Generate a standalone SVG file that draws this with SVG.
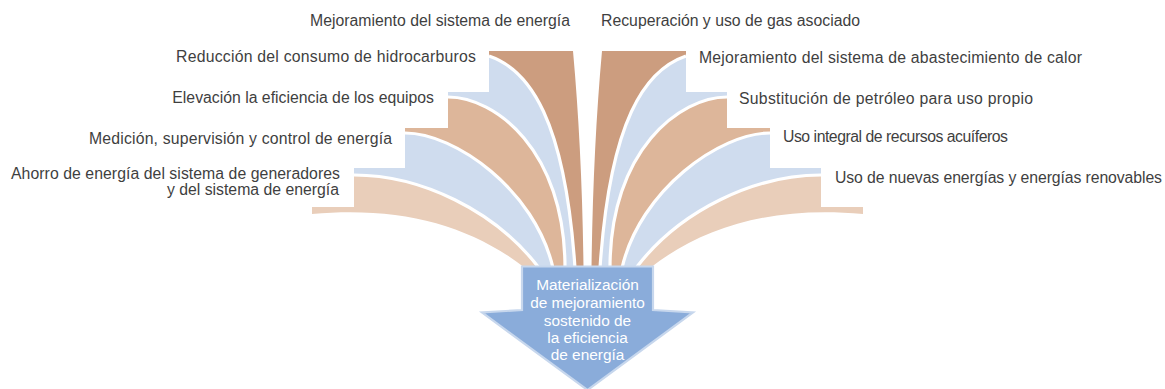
<svg xmlns="http://www.w3.org/2000/svg" xmlns:xlink="http://www.w3.org/1999/xlink" width="1165" height="389" viewBox="0 0 1165 389">
  <style>
    .lbl { font-family: "Liberation Sans", Arial, sans-serif; font-size: 15.8px; fill: #3f3f3f; }
    .end { text-anchor: end; }
    .mid { font-family: "Liberation Sans", Arial, sans-serif; font-size: 15.4px; fill: #ffffff; text-anchor: middle; }
    .dark { fill: #cc9d7f; }
    .med { fill: #ddb69a; }
    .light { fill: #e9ceba; }
    .blue { fill: #cfdcee; }
    .gap { fill: none; stroke: #ffffff; stroke-width: 3.2; }
    .arrow { fill: #8aacda; stroke: #c7d7ed; stroke-width: 2.2; stroke-linejoin: miter; }
  </style>
  <defs>
    <g id="fan">
      <path class="light" d="M354,175 L354,207 L312,207 L312,214 C400,206 470,225 525,268 L539,268 C495,210 420,175 354,175 Z"/>
      <path class="blue" d="M405,133 L405,168 L354,168 L354,175 C420,175 495,210 539,268 L553,268 C535,190 455,133 405,133 Z"/>
      <path class="med" d="M448,97 L448,128 L405,128 L405,133 C455,133 535,190 553,268 L565,268 C565,150 495,97 448,97 Z"/>
      <path class="blue" d="M489,62 L489,92 L448,92 L448,97 C495,97 565,150 565,268 L575,268 C565,120 530,70 489,56 Z"/>
      <path class="dark" d="M489,51 L573,51 Q582,150 583.5,268 L575,268 C565,120 530,70 489,56 Z"/>
      <path class="gap" d="M354,175 C420,175 495,210 539,268"/>
      <path class="gap" d="M405,133 C455,133 535,190 553,268"/>
      <path class="gap" d="M448,97 C495,97 565,150 565,268"/>
      <path class="gap" d="M489,56 C530,70 565,120 575,268"/>
    </g>
  </defs>

  <g id="connectors">
    <use xlink:href="#fan" href="#fan"/>
    <use xlink:href="#fan" href="#fan" transform="matrix(-1 0 0 1 1175 0)"/>
  </g>

  <g id="result">
    <path class="arrow" d="M522,266.5 L653,266.5 L653,310 L693,312.5 L587.5,390 L482,312.5 L522,310 Z"/>
    <text class="mid" x="587.5" y="290">Materialización</text>
    <text class="mid" x="587.5" y="308">de mejoramiento</text>
    <text class="mid" x="587.5" y="325.5">sostenido de</text>
    <text class="mid" x="587.5" y="342.5">la eficiencia</text>
    <text class="mid" x="587.5" y="360">de energía</text>
  </g>

  <g id="node-l5"><text class="lbl end" x="570" y="26">Mejoramiento del sistema de energía</text></g>
  <g id="node-l4"><text class="lbl end" x="476" y="62" textLength="300">Reducción del consumo de hidrocarburos</text></g>
  <g id="node-l3"><text class="lbl end" x="434" y="103">Elevación la eficiencia de los equipos</text></g>
  <g id="node-l2"><text class="lbl end" x="392" y="143.5" textLength="303">Medición, supervisión y control de energía</text></g>
  <g id="node-l1">
    <text class="lbl end" x="340" y="179" textLength="329">Ahorro de energía del sistema de generadores</text>
    <text class="lbl end" x="339" y="195">y del sistema de energía</text>
  </g>
  <g id="node-r5"><text class="lbl" x="601" y="26">Recuperación y uso de gas asociado</text></g>
  <g id="node-r4"><text class="lbl" x="699" y="63" textLength="383">Mejoramiento del sistema de abastecimiento de calor</text></g>
  <g id="node-r3"><text class="lbl" x="739" y="104" textLength="294">Substitución de petróleo para uso propio</text></g>
  <g id="node-r2"><text class="lbl" x="783" y="142" textLength="225">Uso integral de recursos acuíferos</text></g>
  <g id="node-r1"><text class="lbl" x="835" y="183" textLength="327">Uso de nuevas energías y energías renovables</text></g>
</svg>
